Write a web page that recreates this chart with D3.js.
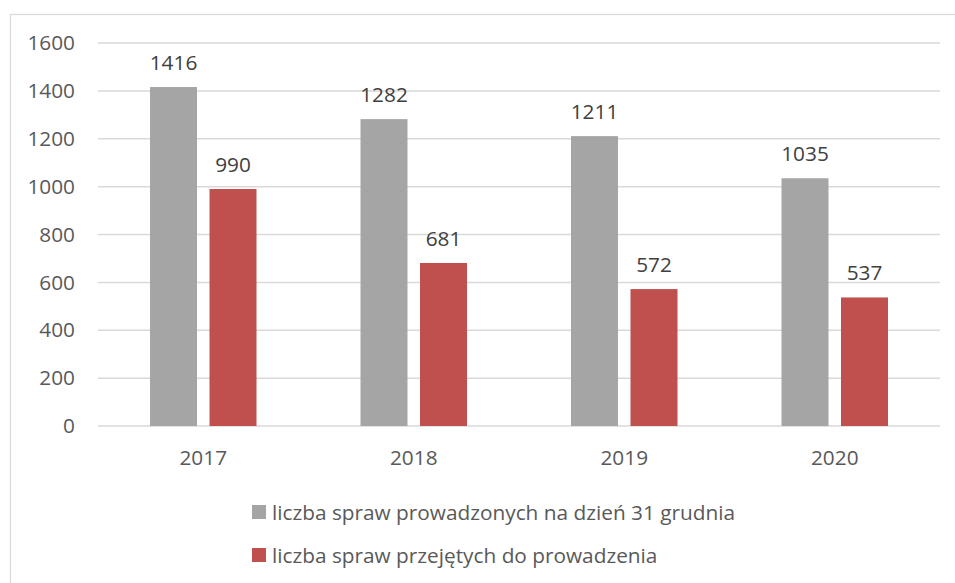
<!DOCTYPE html>
<html><head><meta charset="utf-8">
<script src="https://cdn.jsdelivr.net/npm/d3@7"></script>
<style>html,body{margin:0;padding:0;background:#fff;}svg{display:block;}</style>
</head><body>
<svg id="c" width="955" height="583"></svg>
<script>
const categories = ["2017", "2018", "2019", "2020"];
const seriesNames = ["liczba spraw prowadzonych na dzień 31 grudnia", "liczba spraw przejętych do prowadzenia"];
const prowadzone = [1416, 1282, 1211, 1035];
const przejete = [990, 681, 572, 537];
const yTicks = [0, 200, 400, 600, 800, 1000, 1200, 1400, 1600];
const colors = ["#A5A5A5", "#C0504D"];

(function () {
const svg = d3.select("#c");
const font = "'Open Sans', 'Noto Sans', sans-serif";
const fs = 20.8;

// chart frame
svg.append("rect").attr("x", 10.5).attr("y", 14.5).attr("width", 960).attr("height", 600)
  .attr("fill", "none").attr("stroke", "#D9D9D9").attr("stroke-width", 1.2);

const mLeft = 98, mRight = 940, mTop = 43, mBottom = 426;
const x = d3.scaleBand().domain(categories).range([mLeft, mRight]).paddingInner(0).paddingOuter(0);
const y = d3.scaleLinear().domain([0, 1600]).range([mBottom, mTop]);

// gridlines
svg.append("g").selectAll("line").data(yTicks).join("line")
  .attr("x1", mLeft).attr("x2", mRight)
  .attr("y1", d => y(d)).attr("y2", d => y(d))
  .attr("stroke", "#D9D9D9").attr("stroke-width", 1.5);

// y axis labels
const yAxis = d3.axisLeft(y).tickValues(yTicks).tickFormat(d3.format("d")).tickSize(0).tickPadding(0);
const gy = svg.append("g").attr("transform", "translate(75,0)").call(yAxis);
gy.select(".domain").remove();
gy.selectAll("text").attr("font-family", font).attr("font-size", fs).attr("fill", "#595959");

// x axis labels
const xAxis = d3.axisBottom(x).tickSize(0).tickPadding(0);
const gx = svg.append("g").attr("transform", `translate(0,${mBottom})`).call(xAxis);
gx.select(".domain").remove();
gx.selectAll("text").attr("font-family", font).attr("font-size", fs).attr("fill", "#595959")
  .attr("dy", null).attr("y", 39);

const barW = 47, gap = 12.5;
const series = [prowadzone, przejete];

series.forEach((vals, si) => {
  const g = svg.append("g");
  const off = x.bandwidth() / 2 - (2 * barW + gap) / 2 + (si === 0 ? 0 : barW + gap);
  g.selectAll("rect").data(vals).join("rect")
    .attr("x", (d, i) => x(categories[i]) + off)
    .attr("width", barW)
    .attr("y", d => y(d))
    .attr("height", d => y(0) - y(d))
    .attr("fill", colors[si]);
  g.selectAll("text").data(vals).join("text")
    .attr("x", (d, i) => x(categories[i]) + off + barW / 2)
    .attr("y", d => y(d) - 17)
    .attr("text-anchor", "middle")
    .attr("font-family", font).attr("font-size", fs).attr("fill", "#404040")
    .text(d => d);
});

// legend
const lg = svg.append("g");
seriesNames.forEach((name, i) => {
  const yy = 512 + i * 43;
  lg.append("rect").attr("x", 252).attr("y", yy - 7).attr("width", 14).attr("height", 14).attr("fill", colors[i]);
  lg.append("text").attr("x", 272).attr("y", yy + 7.5)
    .attr("font-family", font).attr("font-size", fs).attr("fill", "#595959").text(name);
});
})();
</script>
</body></html>
